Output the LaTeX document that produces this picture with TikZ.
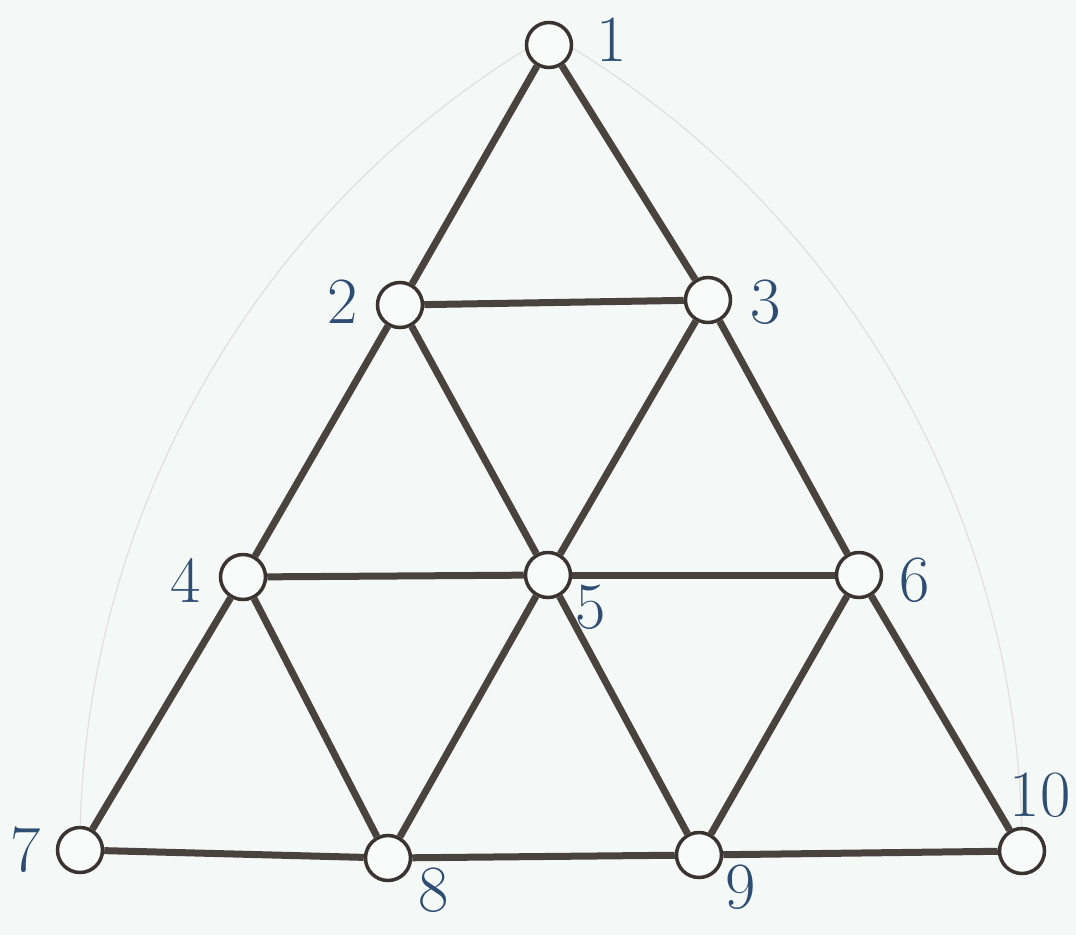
\documentclass[tikz,border=0pt]{standalone}
\usepackage{fontspec}
\begin{document}
\begin{tikzpicture}[x=1pt,y=-1pt,
  vert/.style={circle,draw=vline,line width=3.5pt,fill=vfill,minimum size=45pt,inner sep=0pt},
  edge/.style={draw=eline,line width=7pt},
  lbl/.style={text=lblue,font=\fontsize{66}{68}\selectfont,inner sep=0pt},
  arcline/.style={draw=black!12,line width=1.2pt}]
\definecolor{bg}{HTML}{F4F8F6}
\definecolor{vfill}{HTML}{F9FBFA}
\definecolor{vline}{HTML}{3A3330}
\definecolor{eline}{HTML}{4A423C}
\definecolor{lblue}{HTML}{2E4D72}
\fill[bg] (0,0) rectangle (1076,935);
\useasboundingbox (0,0) rectangle (1076,935);
\coordinate (c1) at (549,45);
\coordinate (c7) at (80,850);
\coordinate (c10) at (1022,851);
% faint arcs (Reuleaux style)
\draw[arcline] (c7) arc[start angle=180, end angle=239.5, radius=942];
\draw[arcline] (c10) arc[start angle=0, end angle=-59.5, radius=942];
\node[vert] (n1) at (c1) {};
\node[vert] (n2) at (400,305) {};
\node[vert] (n3) at (708,300) {};
\node[vert] (n4) at (243,577) {};
\node[vert] (n5) at (548,575) {};
\node[vert] (n6) at (859,575) {};
\node[vert] (n7) at (c7) {};
\node[vert] (n8) at (388,858) {};
\node[vert] (n9) at (699,855) {};
\node[vert] (n10) at (c10) {};
\foreach \a/\b in {1/2,1/3,2/3,2/4,2/5,3/5,3/6,4/5,5/6,4/7,4/8,5/8,5/9,6/9,6/10,7/8,8/9,9/10}
  \draw[edge] (n\a) -- (n\b);
\node[lbl] (l1) at (612,40) {1};
\node[lbl] (l2) at (343,302) {2};
\node[lbl] (l3) at (766,302) {3};
\node[lbl] (l4) at (186,580) {4};
\node[lbl] (l5) at (591,607) {5};
\node[lbl] (l6) at (915,580) {6};
\node[lbl] (l7) at (26,850) {7};
\node[lbl] (l8) at (434,890) {8};
\node[lbl] (l9) at (741,887) {9};
\node[lbl] (l10) at (1040,795) {10};
\end{tikzpicture}
\end{document}
